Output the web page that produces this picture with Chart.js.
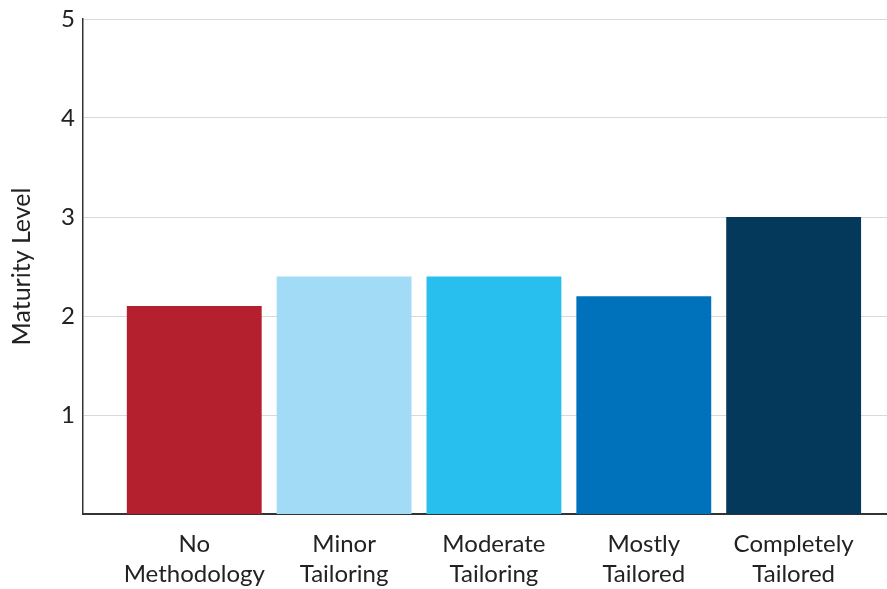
<!DOCTYPE html>
<html>
<head>
<meta charset="utf-8">
<script src="https://cdn.jsdelivr.net/npm/chart.js@4/dist/chart.umd.min.js"></script>
<style>
  html, body { margin: 0; padding: 0; background: #fff; }
  #wrap { width: 887px; height: 589px; position: relative; }
</style>
</head>
<body>
<div id="wrap"><canvas id="c" width="887" height="589"></canvas></div>
<script>
// Tailoring approaches and their average maturity level
const categories = [
  ['No', 'Methodology'],
  ['Minor', 'Tailoring'],
  ['Moderate', 'Tailoring'],
  ['Mostly', 'Tailored'],
  ['Completely', 'Tailored']
];
const maturityLevel = [2.1, 2.4, 2.4, 2.2, 3.0];
const barColors = ['#B5202E', '#A2DBF6', '#28BFEF', '#0072BB', '#04395C'];
const yTicks = [1, 2, 3, 4, 5];

const textColor = '#222222';
const fontFamily = 'Lato, "Open Sans", sans-serif';

// bars are placed on a numeric x axis at positions 0..n-1
const points = maturityLevel.map((v, i) => ({ x: i, y: v }));

new Chart(document.getElementById('c'), {
  type: 'bar',
  data: {
    datasets: [{
      data: points,
      backgroundColor: barColors,
      borderWidth: 0,
      categoryPercentage: 1,
      barPercentage: 0.9
    }]
  },
  options: {
    responsive: false,
    animation: false,
    layout: { padding: { top: 19, right: 0, bottom: -15, left: 0 } },
    plugins: { legend: { display: false }, tooltip: { enabled: false } },
    scales: {
      x: {
        type: 'linear',
        offset: false,
        min: -0.743,
        max: 4.623,
        afterBuildTicks: (scale) => {
          scale.ticks = categories.map((_, i) => ({ value: i }));
        },
        ticks: {
          autoSkip: false,
          maxRotation: 0,
          color: textColor,
          padding: 15,
          font: { family: fontFamily, size: 24, lineHeight: 1.25 },
          callback: (v) => categories[v] || ''
        },
        grid: { display: false, drawTicks: false },
        border: { display: true, color: '#333333', width: 2 }
      },
      y: {
        min: 0,
        max: 5,
        afterBuildTicks: (scale) => {
          scale.ticks = yTicks.map(v => ({ value: v }));
        },
        ticks: {
          color: textColor,
          padding: 8,
          font: { family: fontFamily, size: 24, lineHeight: 0.8 }
        },
        grid: { color: '#d9d9d9', lineWidth: 1, drawTicks: false },
        border: { display: true, color: '#333333', width: 1.5 },
        title: {
          display: true,
          text: 'Maturity Level',
          color: textColor,
          font: { family: fontFamily, size: 25 },
          padding: { top: 7, bottom: 16 }
        }
      }
    }
  }
});
</script>
</body>
</html>
